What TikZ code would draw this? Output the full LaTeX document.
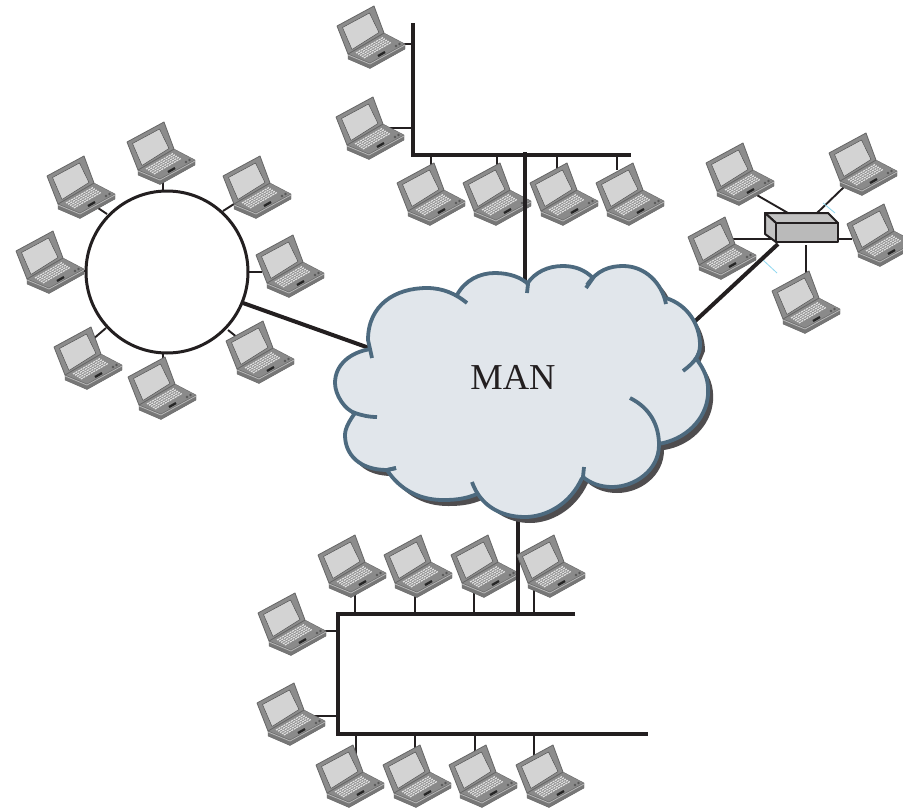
\documentclass[tikz,border=0pt]{standalone}
\usepackage{fontspec}
\setmainfont{Liberation Serif}
\definecolor{ink}{HTML}{231F20}
\definecolor{cloudfill}{HTML}{E1E6EB}
\definecolor{cloudline}{HTML}{4D6A7F}
\definecolor{cloudshadow}{HTML}{4F4D4F}
\definecolor{lapedge}{HTML}{666666}
\definecolor{lid}{HTML}{8C8C8C}
\definecolor{screen}{HTML}{D3D3D3}
\definecolor{deck}{HTML}{8A8A8A}
\definecolor{front}{HTML}{777777}
\definecolor{keys}{HTML}{E2E2E2}
\definecolor{switchface}{HTML}{BABABA}
\definecolor{switchtop}{HTML}{C2C2C2}
\definecolor{tick}{HTML}{8ED8F0}
\tikzset{
  x=1pt,y=-1pt,
  trunk/.style={draw=ink,line width=4pt},
  uplink/.style={draw=ink,line width=4.8pt},
  stub/.style={draw=ink,line width=1.9pt},
  cloudstroke/.style={draw=cloudline,line width=3.8pt},
  laptopnode/.style={rectangle,minimum width=67pt,minimum height=62pt,inner sep=0pt},
  laptopicon/.pic={
    \path[fill=front,draw=lapedge,line width=.4pt,line join=round] (11,48)--(11,53)--(33,62.5)--(68,43)--(68,38)--(33,57)--cycle;
    \path[fill=deck,draw=lapedge,line width=.4pt,line join=round] (11,48)--(47,27)--(68,38)--(33,57)--cycle;
    \draw[white!72!black,line width=.8pt] (11,49)--(33,58)--(68,39);
    \path[fill=lid,draw=lapedge,line width=.8pt,line join=round] (0,20)--(37,0)--(47,27)--(11,48)--cycle;
    \path[fill=screen,draw=lapedge!80!black,line width=.5pt,line join=round] (5.5,21.5)--(32.5,7)--(42,26.5)--(15,43.5)--cycle;
    \foreach \i in {0,...,4}{
      \draw[keys,line width=1.2pt,dash pattern=on 2.1pt off .8pt] (19+1.95*\i,47+1.25*\i)--(46+1.95*\i,31.5+1.25*\i);
    }
    \draw[black!85,line width=2.3pt] (41,50)--(48,46);
    \fill[black!65] (59,40) circle (1.3) (62.5,38) circle (1.3);
  }
}
\newcommand{\laptop}[3]{\pic at (#2,#3) {laptopicon};\node[laptopnode] (#1) at (#2+33.5,#3+31) {};}
\newcommand{\cloudfillpath}{(368,340) .. controls (368,305) and (395,288) .. (427,288) .. controls (438,288) and (449,291) .. (457,295)
  .. controls (465,280) and (480,273) .. (495,273) .. controls (510,273) and (522,278) .. (528,284)
  .. controls (535,272) and (548,266) .. (563,266) .. controls (575,266) and (585,270) .. (593,278)
  .. controls (600,270) and (610,266) .. (623,266) .. controls (645,266) and (662,283) .. (666,298)
  .. controls (688,305) and (700,325) .. (700,345) -- (695,357)
  .. controls (705,370) and (709,380) .. (708,395) .. controls (706,420) and (685,440) .. (659,444)
  .. controls (659,470) and (635,487) .. (612,487) .. controls (600,487) and (590,483) .. (583,477)
  .. controls (570,505) and (545,517) .. (525,517) .. controls (505,517) and (488,507) .. (479,493)
  .. controls (465,500) and (450,500) .. (443,500) .. controls (420,500) and (400,490) .. (387,470)
  .. controls (360,470) and (345,455) .. (345,435) .. controls (345,428) and (350,420) .. (355,413)
  .. controls (345,410) and (335,395) .. (335,383) .. controls (335,365) and (350,352) .. (371,349) -- cycle}
\begin{document}
\begin{tikzpicture}
\useasboundingbox (0,0) rectangle (903,809);
\fill[white] (0,0) rectangle (903,809);
% --- junction coordinates
\coordinate (tA) at (413,23); \coordinate (tB) at (413,155); \coordinate (tC) at (631,155);
\coordinate (tU) at (525,152); \coordinate (tV) at (525,295);
\coordinate (bA) at (338,614); \coordinate (bB) at (338,733.5); \coordinate (bC) at (575,614); \coordinate (bD) at (648,733.5);
\coordinate (bU) at (518,505); \coordinate (bV) at (518,614);
\coordinate (rU) at (243,303); \coordinate (rV) at (372,349);
\coordinate (sU) at (778,244); \coordinate (sV) at (692,324);
% --- stubs under the laptops
\foreach \xa/\ya/\xb/\yb in {400/44/413/44, 385/128/413/128,
  431/155/431/170, 497/155/497/170, 557/155/557/170, 617/155/617/170,
  355/614/355/590, 415/614/415/590, 474/614/474/590, 534/614/534/590,
  320/631/338/631, 312/716/338/716,
  356/733/356/760, 415/733/415/760, 475/733/475/760, 534/733/534/760,
  163/191/163/178, 107/214/98/208, 223/211/234/204, 86/271/78/271,
  248/272/262/272, 106/328/92/340, 163/353/163/362, 228/330/238/338,
  755/194/788/213, 844/187/817/213, 733/239/776/239, 838/239/852/239, 806/245/806/275}
  {\coordinate (p) at (\xa,\ya); \coordinate (q) at (\xb,\yb); \draw[stub] (p)--(q);}
\coordinate (c1) at (823,203); \coordinate (c2) at (835,213);
\coordinate (c3) at (763,260); \coordinate (c4) at (777,273);
\draw[tick,line width=.8pt] (c1)--(c2) (c3)--(c4);
% --- laptops
\laptop{la}{337}{6}\laptop{lb}{336}{97}
\laptop{lc}{397}{163}\laptop{ld}{463}{163}\laptop{le}{530}{163}\laptop{lf}{596}{163}
\laptop{r1}{127}{122}\laptop{r2}{47}{156}\laptop{r3}{223}{156}\laptop{r4}{16}{231}
\laptop{r5}{256}{235}\laptop{r6}{54}{327}\laptop{r7}{226}{321}\laptop{r8}{128}{357}
\laptop{s1}{706}{143}\laptop{s2}{829}{133}\laptop{s3}{688}{217}\laptop{s4}{847}{204}\laptop{s5}{772}{271}
\laptop{u1}{318}{535}\laptop{u2}{384}{535}\laptop{u3}{451}{535}
\draw[uplink] (bU)--(bV);
\laptop{u4}{517}{535}
\laptop{m1}{258}{593}\laptop{m2}{257}{683}
\laptop{d1}{316}{745}\laptop{d2}{383}{745}\laptop{d3}{449}{745}\laptop{d4}{516}{745}
% --- buses
\draw[trunk,line join=miter] (tA)--(tB)--(tC);
\draw[uplink] (tU)--(tV);
\draw[trunk,line join=miter] (bC)--(bA)--(bB)--(bD);
% --- ring
\node[circle,draw=ink,line width=3pt,fill=white,minimum size=162pt,inner sep=0pt] (ring) at (167,272) {};
\draw[trunk] (rU)--(rV);
% --- switch
\draw[trunk] (sU)--(sV);
\path[fill=switchtop,draw=ink,line width=2pt,line join=round] (765,213)--(828,213)--(838,223)--(776,223)--cycle;
\path[fill=switchtop,draw=ink,line width=2pt,line join=round] (765,213)--(776,223)--(776,242)--(765,234)--cycle;
\path[fill=switchface,draw=ink,line width=2pt,line join=round] (776,223)--(838,223)--(838,242)--(776,242)--cycle;
% --- cloud
\path[fill=cloudshadow,shift={(5,6)}] \cloudfillpath;
\path[fill=cloudfill] \cloudfillpath;
\begin{scope}[cloudstroke,line cap=butt]
\draw (372,358) -- (368,340) .. controls (368,305) and (395,288) .. (427,288) .. controls (443,288) and (456,294) .. (467,303);
\draw (457,295) .. controls (465,280) and (480,273) .. (495,273) .. controls (510,273) and (522,278) .. (528,284) -- (527,293);
\draw (527,284) .. controls (535,272) and (548,266) .. (563,266) .. controls (575,266) and (585,270) .. (593,278) -- (586,288);
\draw (587,285) .. controls (597,270) and (610,266) .. (623,266) .. controls (645,266) and (662,283) .. (666,304);
\draw (666,298) .. controls (688,305) and (700,325) .. (700,345) .. controls (700,355) and (695,362) .. (683,371);
\draw (695,357) .. controls (705,370) and (709,380) .. (708,395) .. controls (706,420) and (685,440) .. (658,444);
\draw (630,398) .. controls (650,408) and (659,425) .. (659,445) .. controls (659,470) and (635,487) .. (612,487) .. controls (600,487) and (590,483) .. (583,477) -- (584,467);
\draw (582,478) .. controls (570,505) and (545,517) .. (525,517) .. controls (500,517) and (480,505) .. (472,482);
\draw (479,493) .. controls (465,500) and (450,500) .. (443,500) .. controls (420,500) and (400,490) .. (387,470) -- (396,468);
\draw (396,468) -- (387,470) .. controls (360,470) and (345,455) .. (345,435) .. controls (345,428) and (350,420) .. (355,413);
\draw (377,417) .. controls (368,417) and (361,415) .. (355,413) .. controls (345,410) and (335,395) .. (335,383) .. controls (335,365) and (350,352) .. (371,349);
\end{scope}
\node[text=ink,inner sep=0pt,font=\fontsize{36.5}{40}\selectfont] (man) at (513,377) {MAN};
\end{tikzpicture}
\end{document}
